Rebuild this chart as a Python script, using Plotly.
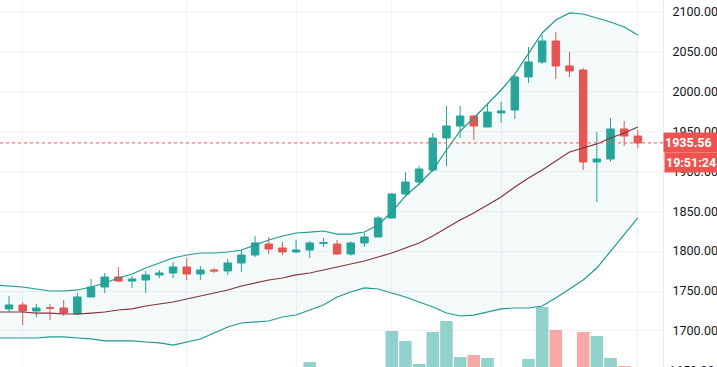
import plotly.graph_objects as go

# ---- data ----
idx = list(range(-1, 47))
opens = [1734, 1727.5, 1732.5, 1725, 1728.9, 1728.7, 1721.2, 1742.5, 1755, 1767.5, 1762.5, 1763.8,
         1770.1, 1772.6, 1780.1, 1771.3, 1776.3, 1775.1, 1785.1, 1795.1, 1808.9, 1803.9, 1798.9, 1801.4,
         1809.5, 1808.9, 1796.4, 1810.2, 1817.7, 1841.5, 1871.6, 1886.6, 1901.6, 1941.7, 1956.8, 1969.3,
         1955.5, 1973.1, 1976.8, 2018.2, 2037.0, 2063.3, 2032.0, 2026.9, 1911.7, 1915.4, 1953.0, 1944.2]
highs = [1738, 1743.7, 1736.2, 1733.7, 1733.7, 1738.7, 1747.5, 1765, 1772.6, 1780.1, 1768.8, 1775.1,
         1776.3, 1786.3, 1791.4, 1781.3, 1778.8, 1790.1, 1801.4, 1818.9, 1817.7, 1811.4, 1813.9, 1812.7,
         1816.4, 1813.9, 1812.0, 1822.7, 1844.0, 1872.8, 1899.1, 1906.6, 1948.0, 1981.8, 1981.8, 1970.5,
         1983.1, 1986.8, 2020.7, 2055.8, 2070.8, 2074.6, 2049.5, 2029.5, 1949.3, 1966.8, 1963.0, 1951.8]
lows = [1726, 1723.7, 1707.4, 1717.4, 1713.7, 1718.7, 1719.9, 1742.5, 1747.5, 1761.3, 1753.8, 1747.5,
        1766.3, 1766.3, 1763.8, 1763.8, 1772.6, 1770.1, 1773.8, 1792.6, 1796.4, 1795.1, 1797.6, 1791.4,
        1805.1, 1795.1, 1794.0, 1805.1, 1817.7, 1841.5, 1867.8, 1882.8, 1899.1, 1906.6, 1941.7, 1939.2,
        1955.5, 1960.5, 1965.5, 2010.7, 2034.5, 2015.7, 2018.2, 1901.6, 1861.5, 1911.7, 1931.7, 1929.2]
closes = [1729, 1732.5, 1725, 1728.7, 1728.5, 1722.4, 1742.5, 1755, 1767.5, 1762.5, 1765, 1770.1,
          1772.6, 1780.1, 1771.3, 1776.3, 1775.1, 1785.1, 1795.1, 1810.2, 1802.6, 1798.9, 1801.4, 1810.2,
          1810.5, 1796.4, 1810.2, 1817.7, 1841.5, 1871.6, 1886.6, 1902.9, 1941.7, 1956.8, 1969.3, 1956.8,
          1974.3, 1975.6, 2018.2, 2037.0, 2063.3, 2032.0, 2025.7, 1911.7, 1915.4, 1953.0, 1944.2, 1935.56]
bb_upper = [1757.5, 1756.3, 1755.0, 1752.5, 1750.0, 1750.0, 1751.3, 1755.0, 1760.0, 1766.3, 1771.3, 1778.8,
            1785.1, 1791.4, 1795.1, 1797.6, 1797.6, 1798.9, 1801.4, 1807.6, 1813.9, 1818.9, 1822.7, 1823.9,
            1825.2, 1821.4, 1821.4, 1823.9, 1832.7, 1849.0, 1869.1, 1884.1, 1901.6, 1926.7, 1950.5, 1966.8,
            1984.3, 2001.9, 2021.9, 2047.0, 2073.3, 2089.6, 2098.4, 2097.1, 2092.1, 2087.1, 2080.8, 2070.8]
bb_mid = [1723.7, 1723.7, 1723.7, 1722.4, 1722.4, 1721.2, 1721.2, 1722.4, 1723.7, 1726.2, 1727.5, 1731.2,
          1733.7, 1736.2, 1740.0, 1743.7, 1747.5, 1751.3, 1756.3, 1760.0, 1763.8, 1766.3, 1770.1, 1772.6,
          1776.3, 1780.1, 1783.8, 1787.6, 1792.6, 1797.6, 1803.9, 1810.2, 1818.9, 1829.0, 1839.0, 1847.7,
          1857.8, 1867.8, 1880.3, 1891.7, 1901.6, 1912.9, 1924.2, 1929.2, 1934.3, 1941.7, 1948.0, 1955.5]
bb_lower = [1691.1, 1691.1, 1691.1, 1691.1, 1692.4, 1692.4, 1691.1, 1689.9, 1687.4, 1687.4, 1687.4, 1686.1,
            1684.9, 1682.3, 1686.1, 1689.9, 1697.4, 1704.9, 1709.9, 1711.2, 1712.4, 1717.4, 1719.9, 1726.2,
            1732.5, 1742.5, 1748.8, 1753.8, 1752.5, 1747.5, 1742.5, 1736.2, 1730.0, 1722.4, 1718.7, 1719.9,
            1723.7, 1727.5, 1728.7, 1728.7, 1731.2, 1741.2, 1752.5, 1763.8, 1778.8, 1800.1, 1821.4, 1841.5]
volume = [18, 15, 20, 14, 16, 19, 24, 22, 20, 18, 14, 17,
          12, 15, 19, 16, 11, 17, 21, 25, 20, 18, 14, 33,
          13, 22, 21, 19, 26, 64, 54, 31, 63, 74, 38, 40,
          37, 24, 26, 36, 88, 65, 27, 63, 59, 37, 29, 12]
volume = [v * 1000 for v in volume]
price_ticks = [1700, 1750, 1800, 1850, 1900, 1950, 2000, 2050, 2100]
cut_tick = 1650
time_grid = [1, 13, 21, 28, 36, 46]
last_price = closes[-1]
countdown = "19:51:24"

UP = "#26a69a"
DOWN = "#ef5350"
UP_VOL = "rgba(38,166,154,0.5)"
DOWN_VOL = "rgba(239,83,80,0.5)"
FONT = "Roboto"
XDOM = 663 / 717
Y_RANGE = [1654.77, 2114.66]

vol_colors = [UP_VOL if c >= o else DOWN_VOL for o, c in zip(opens, closes)]

fig = go.Figure()

fig.add_trace(go.Bar(x=idx, y=volume, marker=dict(color=vol_colors, line=dict(width=0)),
                     yaxis="y2", showlegend=False, hoverinfo="skip"))

fig.add_trace(go.Scatter(x=idx, y=bb_lower, mode="lines", line=dict(color="#22998e", width=1.2),
                         showlegend=False, hoverinfo="skip"))
fig.add_trace(go.Scatter(x=idx, y=bb_upper, mode="lines", line=dict(color="#22998e", width=1.2),
                         fill="tonexty", fillcolor="rgba(38,140,150,0.05)",
                         showlegend=False, hoverinfo="skip"))
fig.add_trace(go.Scatter(x=idx, y=bb_mid, mode="lines", line=dict(color="#84343a", width=1.2),
                         showlegend=False, hoverinfo="skip"))

fig.add_trace(go.Candlestick(
    x=idx, open=opens, high=highs, low=lows, close=closes,
    increasing=dict(line=dict(color=UP, width=1), fillcolor=UP),
    decreasing=dict(line=dict(color=DOWN, width=1), fillcolor=DOWN),
    whiskerwidth=0, showlegend=False, hoverinfo="skip"))

fig.add_shape(type="line", xref="paper", x0=0, x1=XDOM, yref="y", y0=last_price, y1=last_price,
              line=dict(color=DOWN, width=1, dash="dot"))

fig.add_annotation(xref="paper", x=XDOM, yref="y", y=last_price, xanchor="left", yanchor="middle",
                   text=f"<b>{last_price:.2f}</b>", showarrow=False, bgcolor=DOWN, width=60, height=17,
                   align="left", borderpad=1, xshift=0,
                   font=dict(family=FONT, size=12.5, color="white"))
fig.add_annotation(xref="paper", x=XDOM, yref="y", y=last_price, xanchor="left", yanchor="middle",
                   text=f"<b>{countdown}</b>", showarrow=False, bgcolor=DOWN, width=60, height=17,
                   align="left", borderpad=1, yshift=-20, xshift=1,
                   font=dict(family=FONT, size=12.5, color="white"))
cut_paper_y = (cut_tick - Y_RANGE[0]) / (Y_RANGE[1] - Y_RANGE[0])
fig.add_annotation(xref="paper", x=XDOM, yref="paper", y=cut_paper_y, xanchor="left", yanchor="middle",
                   text=f"{cut_tick:.2f}", showarrow=False, xshift=5, borderpad=0,
                   font=dict(family=FONT, size=12.5, color="#131722"))

fig.update_layout(
    width=717, height=367,
    margin=dict(l=0, r=0, t=0, b=0, autoexpand=False),
    paper_bgcolor="white", plot_bgcolor="white",
    boxgap=0.22, bargap=0.08,
    xaxis=dict(domain=[0, XDOM], range=[-0.66, 47.84], tickvals=time_grid, showticklabels=False,
               showgrid=True, gridcolor="#f2f3f6", zeroline=False, rangeslider=dict(visible=False),
               showline=False, fixedrange=True),
    yaxis=dict(side="right", range=Y_RANGE, tickvals=price_ticks, tickformat=".2f",
               showgrid=True, gridcolor="#f2f3f6", zeroline=False, showline=True, linecolor="#e6e8ee",
               ticks="", ticklabelstandoff=6, fixedrange=True,
               tickfont=dict(family=FONT, size=12.5, color="#131722")),
    yaxis2=dict(overlaying="y", range=[28000, 395000], visible=False, side="left", fixedrange=True),
)

fig.write_html("out.html", config={"displayModeBar": False, "staticPlot": True},
               post_script="document.body.style.margin='0';document.body.style.overflow='hidden';")
